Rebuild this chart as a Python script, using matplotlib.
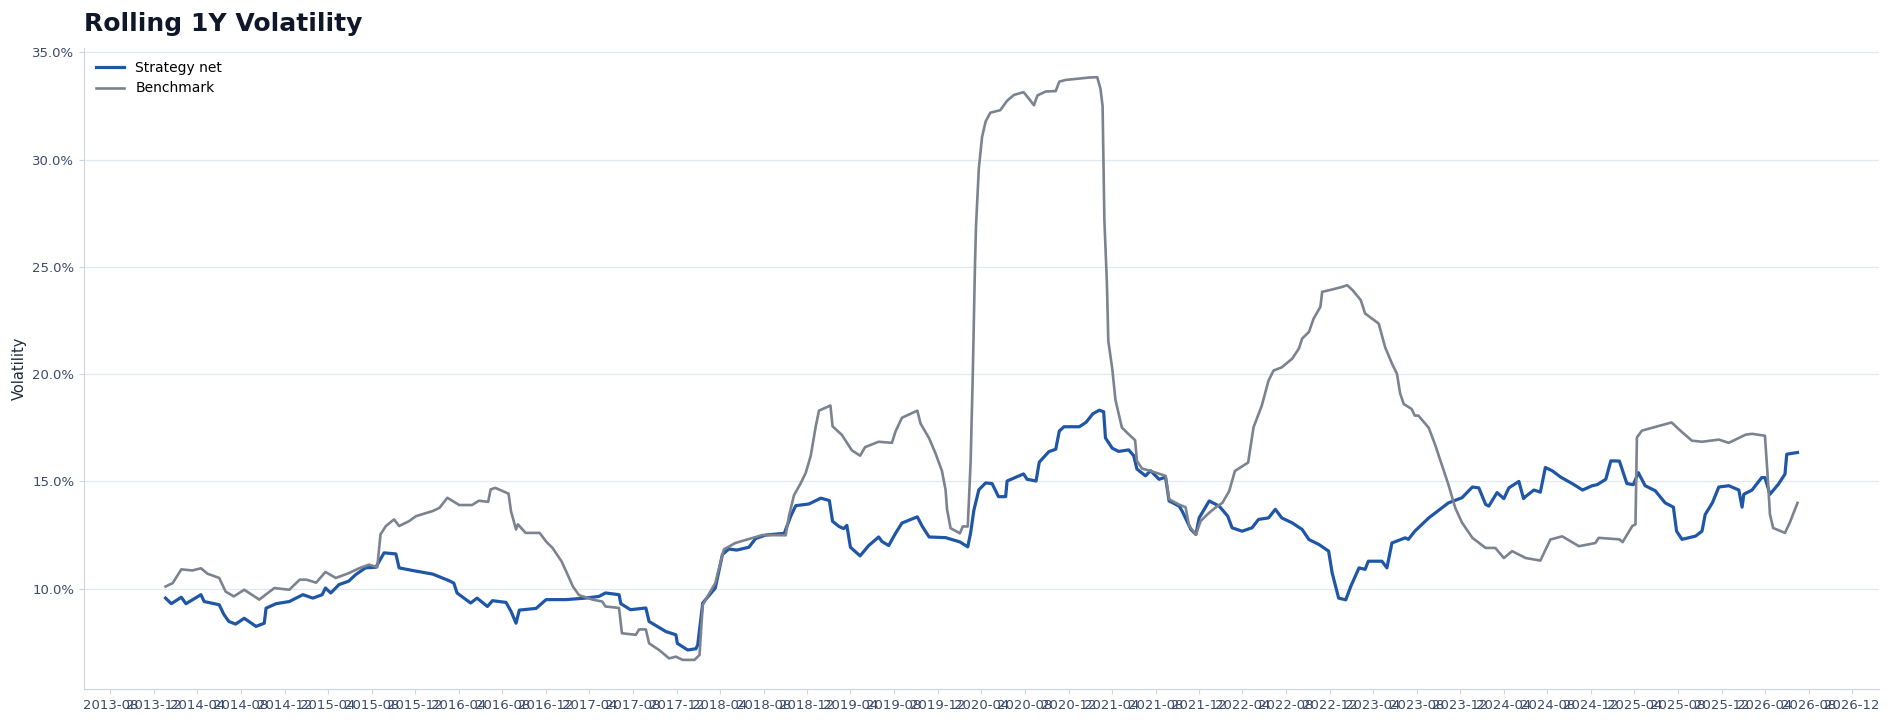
import pandas as pd
import matplotlib
matplotlib.use("Agg")
import matplotlib.pyplot as plt
import matplotlib.dates as mdates
from matplotlib.ticker import MultipleLocator, PercentFormatter

# rolling 1y volatility, in percent
strat_dates = [
    "2014-01-02", "2014-01-18", "2014-02-15", "2014-02-28", "2014-04-11", "2014-04-20",
    "2014-06-01", "2014-06-14", "2014-06-28", "2014-07-17", "2014-08-10", "2014-09-12",
    "2014-10-05", "2014-10-10", "2014-11-07", "2014-12-14", "2015-01-21", "2015-02-18",
    "2015-03-16", "2015-03-25", "2015-04-09", "2015-05-02", "2015-05-29", "2015-06-18",
    "2015-07-15", "2015-08-13", "2015-09-05", "2015-10-08", "2015-10-17", "2015-11-23",
    "2016-01-19", "2016-03-05", "2016-03-18", "2016-03-27", "2016-05-04", "2016-05-22",
    "2016-06-20", "2016-07-04", "2016-08-11", "2016-08-25", "2016-09-08", "2016-09-17",
    "2016-11-03", "2016-12-01", "2017-01-26", "2017-03-21", "2017-04-28", "2017-05-16",
    "2017-06-23", "2017-06-28", "2017-07-25", "2017-09-06", "2017-09-15", "2017-11-01",
    "2017-11-29", "2017-12-03", "2018-01-01", "2018-01-24", "2018-01-29", "2018-02-12",
    "2018-03-19", "2018-04-08", "2018-04-26", "2018-05-18", "2018-06-21", "2018-07-10",
    "2018-08-07", "2018-09-28", "2018-10-16", "2018-10-30", "2018-12-06", "2019-01-08",
    "2019-02-01", "2019-02-10", "2019-02-28", "2019-03-13", "2019-03-22", "2019-04-01",
    "2019-04-28", "2019-05-22", "2019-06-19", "2019-06-28", "2019-07-17", "2019-08-05",
    "2019-08-23", "2019-10-05", "2019-10-19", "2019-11-07", "2019-12-23", "2020-02-01",
    "2020-02-23", "2020-03-02", "2020-03-11", "2020-03-25", "2020-04-13", "2020-05-01",
    "2020-05-19", "2020-06-08", "2020-06-12", "2020-07-15", "2020-07-28", "2020-08-07",
    "2020-09-01", "2020-09-10", "2020-10-07", "2020-10-26", "2020-11-05", "2020-11-18",
    "2020-12-31", "2021-01-19", "2021-02-07", "2021-02-25", "2021-03-09", "2021-03-14",
    "2021-04-02", "2021-04-20", "2021-05-18", "2021-06-01", "2021-06-10", "2021-07-04",
    "2021-07-18", "2021-08-11", "2021-08-29", "2021-09-08", "2021-10-06", "2021-10-15",
    "2021-11-08", "2021-11-22", "2021-12-01", "2021-12-29", "2022-01-26", "2022-02-19",
    "2022-03-03", "2022-03-31", "2022-04-28", "2022-05-16", "2022-06-13", "2022-07-02",
    "2022-07-20", "2022-08-18", "2022-09-15", "2022-10-04", "2022-11-01", "2022-11-28",
    "2022-12-08", "2022-12-26", "2023-01-15", "2023-01-29", "2023-02-21", "2023-03-10",
    "2023-03-19", "2023-04-26", "2023-05-10", "2023-05-24", "2023-06-30", "2023-07-09",
    "2023-07-27", "2023-09-04", "2023-10-29", "2023-12-06", "2024-01-04", "2024-01-22",
    "2024-02-10", "2024-02-19", "2024-03-13", "2024-04-01", "2024-04-15", "2024-05-13",
    "2024-05-26", "2024-06-01", "2024-06-24", "2024-07-12", "2024-07-26", "2024-08-14",
    "2024-09-07", "2024-10-09", "2024-11-07", "2024-12-04", "2024-12-18", "2025-01-11",
    "2025-01-25", "2025-02-18", "2025-02-27", "2025-03-11", "2025-03-29", "2025-04-12",
    "2025-05-01", "2025-05-29", "2025-06-26", "2025-07-19", "2025-07-28", "2025-08-12",
    "2025-09-19", "2025-10-07", "2025-10-16", "2025-11-05", "2025-11-23", "2025-12-21",
    "2026-01-18", "2026-01-27", "2026-02-01", "2026-02-24", "2026-03-23", "2026-04-01",
    "2026-04-15", "2026-05-08", "2026-05-27", "2026-06-01", "2026-07-01",
]
strat_vol = [
    9.56, 9.30, 9.60, 9.30, 9.72, 9.40,
    9.25, 8.80, 8.47, 8.35, 8.62, 8.24,
    8.39, 9.09, 9.30, 9.40, 9.72, 9.56,
    9.72, 10.03, 9.80, 10.19, 10.35, 10.66,
    10.97, 11.00, 11.67, 11.62, 10.97, 10.85,
    10.68, 10.37, 10.26, 9.80, 9.33, 9.56,
    9.17, 9.44, 9.36, 8.94, 8.39, 9.00,
    9.08, 9.49, 9.49, 9.56, 9.64, 9.80,
    9.72, 9.30, 9.02, 9.10, 8.47, 8.00,
    7.85, 7.45, 7.14, 7.20, 7.38, 9.33,
    10.03, 11.59, 11.85, 11.80, 11.93, 12.34,
    12.50, 12.58, 13.38, 13.87, 13.95, 14.22,
    14.11, 13.14, 12.90, 12.80, 12.95, 11.93,
    11.53, 12.01, 12.41, 12.20, 12.01, 12.58,
    13.06, 13.35, 12.90, 12.41, 12.38, 12.18,
    11.95, 12.60, 13.65, 14.61, 14.93, 14.90,
    14.29, 14.29, 15.02, 15.26, 15.35, 15.10,
    15.02, 15.90, 16.39, 16.50, 17.35, 17.55,
    17.55, 17.76, 18.16, 18.32, 18.25, 17.03,
    16.55, 16.40, 16.47, 16.20, 15.58, 15.26,
    15.50, 15.10, 15.20, 14.09, 13.85, 13.60,
    12.76, 12.53, 13.30, 14.09, 13.85, 13.38,
    12.84, 12.68, 12.84, 13.23, 13.30, 13.70,
    13.30, 13.07, 12.76, 12.29, 12.06, 11.75,
    10.73, 9.56, 9.48, 10.11, 10.97, 10.90,
    11.28, 11.28, 10.97, 12.13, 12.37, 12.30,
    12.68, 13.30, 14.00, 14.24, 14.74, 14.70,
    13.93, 13.85, 14.48, 14.20, 14.70, 15.00,
    14.20, 14.30, 14.60, 14.50, 15.65, 15.50,
    15.20, 14.90, 14.60, 14.80, 14.85, 15.10,
    15.96, 15.95, 15.50, 14.90, 14.85, 15.41,
    14.80, 14.57, 14.00, 13.80, 12.68, 12.30,
    12.45, 12.68, 13.46, 14.00, 14.74, 14.80,
    14.60, 13.80, 14.40, 14.60, 15.18, 15.18,
    14.40, 14.86, 15.34, 16.27, 16.35,
]

bench_dates = [
    "2014-01-02", "2014-01-22", "2014-02-15", "2014-03-18", "2014-04-11", "2014-04-29",
    "2014-06-01", "2014-06-19", "2014-07-12", "2014-08-10", "2014-09-21", "2014-11-02",
    "2014-12-14", "2015-01-12", "2015-01-31", "2015-02-27", "2015-03-25", "2015-04-23",
    "2015-05-29", "2015-06-27", "2015-07-25", "2015-08-17", "2015-08-26", "2015-09-10",
    "2015-10-03", "2015-10-17", "2015-11-14", "2015-12-03", "2016-01-19", "2016-02-07",
    "2016-02-29", "2016-04-02", "2016-05-08", "2016-05-27", "2016-06-22", "2016-06-29",
    "2016-07-12", "2016-08-18", "2016-08-25", "2016-09-08", "2016-09-13", "2016-10-05",
    "2016-11-13", "2016-12-01", "2016-12-19", "2017-01-13", "2017-01-26", "2017-02-14",
    "2017-03-03", "2017-04-10", "2017-05-07", "2017-05-16", "2017-06-23", "2017-07-01",
    "2017-08-09", "2017-08-18", "2017-09-06", "2017-09-15", "2017-10-13", "2017-11-10",
    "2017-11-29", "2017-12-18", "2018-01-20", "2018-02-03", "2018-02-12", "2018-03-19",
    "2018-04-12", "2018-05-14", "2018-07-29", "2018-10-02", "2018-10-11", "2018-10-25",
    "2018-11-13", "2018-11-27", "2018-12-11", "2018-12-25", "2019-01-03", "2019-02-04",
    "2019-02-10", "2019-03-08", "2019-04-05", "2019-04-28", "2019-05-12", "2019-06-19",
    "2019-07-26", "2019-08-05", "2019-08-23", "2019-10-05", "2019-10-14", "2019-11-07",
    "2019-11-25", "2019-12-13", "2019-12-23", "2019-12-27", "2020-01-06", "2020-02-01",
    "2020-02-09", "2020-02-23", "2020-03-02", "2020-03-08", "2020-03-14", "2020-03-17",
    "2020-03-25", "2020-04-03", "2020-04-13", "2020-04-26", "2020-05-24", "2020-06-12",
    "2020-07-01", "2020-07-28", "2020-08-12", "2020-08-26", "2020-09-05", "2020-09-28",
    "2020-10-26", "2020-11-05", "2020-11-23", "2021-01-27", "2021-02-19", "2021-02-28",
    "2021-03-06", "2021-03-11", "2021-03-18", "2021-03-22", "2021-04-02", "2021-04-11",
    "2021-04-29", "2021-05-18", "2021-06-05", "2021-06-10", "2021-06-24", "2021-07-18",
    "2021-08-29", "2021-09-08", "2021-10-06", "2021-10-24", "2021-11-03", "2021-11-22",
    "2021-12-05", "2021-12-29", "2022-01-21", "2022-02-04", "2022-02-23", "2022-03-11",
    "2022-04-17", "2022-05-02", "2022-05-25", "2022-06-13", "2022-06-27", "2022-07-20",
    "2022-08-18", "2022-09-06", "2022-09-15", "2022-10-04", "2022-10-17", "2022-11-05",
    "2022-11-10", "2022-12-08", "2023-01-05", "2023-01-19", "2023-02-03", "2023-02-26",
    "2023-03-10", "2023-04-17", "2023-05-05", "2023-05-24", "2023-06-07", "2023-06-16",
    "2023-06-26", "2023-07-18", "2023-07-27", "2023-08-06", "2023-09-04", "2023-09-22",
    "2023-10-10", "2023-10-29", "2023-11-17", "2023-12-06", "2024-01-04", "2024-02-10",
    "2024-03-08", "2024-04-01", "2024-04-24", "2024-06-01", "2024-07-12", "2024-08-09",
    "2024-09-11", "2024-10-28", "2024-12-13", "2024-12-22", "2025-02-18", "2025-02-27",
    "2025-03-26", "2025-04-04", "2025-04-08", "2025-04-22", "2025-05-20", "2025-07-14",
    "2025-08-12", "2025-09-09", "2025-10-07", "2025-11-23", "2025-12-21", "2026-02-06",
    "2026-02-24", "2026-04-01", "2026-04-08", "2026-04-15", "2026-04-24", "2026-05-27",
    "2026-06-10", "2026-07-01",
]
bench_vol = [
    10.10, 10.26, 10.90, 10.85, 10.95, 10.70,
    10.50, 9.86, 9.64, 9.95, 9.49, 10.03,
    9.95, 10.42, 10.42, 10.28, 10.78, 10.50,
    10.72, 10.95, 11.12, 11.00, 12.53, 12.92,
    13.23, 12.92, 13.15, 13.38, 13.62, 13.77,
    14.24, 13.90, 13.90, 14.10, 14.05, 14.63,
    14.70, 14.43, 13.60, 12.76, 13.00, 12.60,
    12.60, 12.20, 11.90, 11.28, 10.81, 10.10,
    9.70, 9.49, 9.40, 9.17, 9.10, 7.92,
    7.85, 8.10, 8.10, 7.45, 7.14, 6.75,
    6.83, 6.68, 6.68, 6.91, 9.25, 10.26,
    11.83, 12.13, 12.50, 12.49, 13.38, 14.35,
    14.92, 15.40, 16.20, 17.57, 18.30, 18.54,
    17.57, 17.17, 16.45, 16.20, 16.60, 16.85,
    16.80, 17.33, 17.97, 18.30, 17.70, 17.01,
    16.30, 15.48, 14.60, 13.71, 12.82, 12.58,
    12.90, 12.90, 15.90, 19.94, 24.93, 26.87,
    29.60, 31.06, 31.78, 32.19, 32.31, 32.75,
    33.02, 33.15, 32.85, 32.54, 33.00, 33.18,
    33.20, 33.64, 33.72, 33.83, 33.85, 33.31,
    32.50, 27.19, 24.28, 21.55, 20.26, 18.80,
    17.51, 17.20, 16.92, 15.96, 15.60, 15.49,
    15.26, 14.17, 13.92, 13.80, 12.92, 12.53,
    13.15, 13.54, 13.85, 14.00, 14.55, 15.49,
    15.88, 17.52, 18.53, 19.70, 20.17, 20.32,
    20.72, 21.20, 21.66, 21.97, 22.59, 23.14,
    23.84, 23.95, 24.07, 24.15, 23.92, 23.45,
    22.83, 22.36, 21.26, 20.50, 20.02, 19.10,
    18.61, 18.38, 18.07, 18.07, 17.50, 16.70,
    15.80, 14.85, 13.77, 13.08, 12.37, 11.90,
    11.90, 11.43, 11.75, 11.43, 11.31, 12.29,
    12.44, 11.98, 12.13, 12.37, 12.30, 12.17,
    12.92, 13.00, 17.05, 17.37, 17.50, 17.75,
    17.30, 16.90, 16.85, 16.95, 16.80, 17.18,
    17.22, 17.13, 15.40, 13.46, 12.83, 12.60,
    13.10, 14.00,
]

strat = pd.Series(strat_vol, index=pd.to_datetime(strat_dates))
bench = pd.Series(bench_vol, index=pd.to_datetime(bench_dates))

fig = plt.figure(figsize=(18.91, 7.23), dpi=100)
ax = fig.add_axes([0.0444, 0.047, 0.9493, 0.8866])

ax.plot(strat.index, strat.values, color="#1f56a6", lw=2.3, label="Strategy net")
ax.plot(bench.index, bench.values, color="#7b8290", lw=1.9, label="Benchmark")

ax.set_title("Rolling 1Y Volatility", loc="left", fontsize=18, fontweight="bold",
             color="#0f172a", pad=12)
ax.set_ylabel("Volatility", fontsize=10.5, color="#1e293b")

ax.yaxis.set_major_locator(MultipleLocator(5))
ax.yaxis.set_major_formatter(PercentFormatter(100, decimals=1))
ax.xaxis.set_major_locator(mdates.MonthLocator(bymonth=[4, 8, 12]))
ax.xaxis.set_major_formatter(mdates.DateFormatter("%Y-%m"))

ax.grid(axis="y", color="#e2e8f0", lw=0.9)
ax.set_axisbelow(True)
for s in ["top", "right"]:
    ax.spines[s].set_visible(False)
for s in ["left", "bottom"]:
    ax.spines[s].set_color("#cbd5e1")
ax.tick_params(colors="#cbd5e1", labelcolor="#3b4a68", labelsize=9.5)

ax.legend(loc="upper left", frameon=False, fontsize=10)

fig.savefig("out.png", dpi=100)
